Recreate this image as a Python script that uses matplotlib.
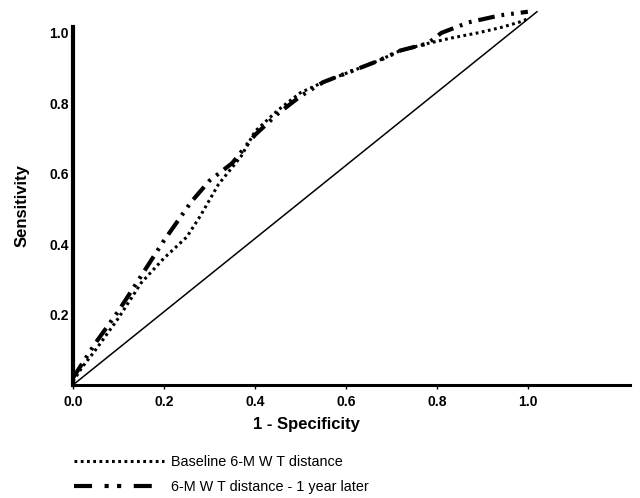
import matplotlib
matplotlib.use("Agg")
import matplotlib.pyplot as plt
from matplotlib.lines import Line2D

plt.rcParams['font.family'] = ['Liberation Sans', 'DejaVu Sans']
plt.rcParams['lines.scale_dashes'] = False

# ROC curve values
base_x = [0.0, 0.02, 0.05, 0.10, 0.15, 0.20, 0.25, 0.28, 0.32, 0.37, 0.40, 0.45,
          0.50, 0.55, 0.61, 0.67, 0.72, 0.78, 0.83, 0.89, 0.94, 0.98, 1.0]
base_y = [0.01, 0.05, 0.10, 0.19, 0.29, 0.36, 0.42, 0.48, 0.57, 0.65, 0.72, 0.78,
          0.83, 0.86, 0.89, 0.92, 0.95, 0.97, 0.985, 1.0, 1.015, 1.03, 1.04]

later_x = [0.0, 0.02, 0.05, 0.10, 0.15, 0.20, 0.26, 0.30, 0.35, 0.40, 0.45, 0.50,
           0.55, 0.61, 0.67, 0.72, 0.78, 0.81, 0.87, 0.94, 1.0]
later_y = [0.02, 0.06, 0.12, 0.21, 0.31, 0.41, 0.52, 0.58, 0.63, 0.71, 0.77, 0.82,
           0.86, 0.89, 0.92, 0.95, 0.97, 1.0, 1.03, 1.05, 1.06]

diag_x = [0.0, 1.02]
diag_y = [0.0, 1.06]

x_ticks = [0.0, 0.2, 0.4, 0.6, 0.8, 1.0]
y_ticks = [0.2, 0.4, 0.6, 0.8, 1.0]

fig = plt.figure(figsize=(6.4, 4.98), dpi=100)
ax = fig.add_axes([0.114, 0.227, 0.870, 0.719])

ax.plot(diag_x, diag_y, color='black', lw=1.1, clip_on=False)
l1, = ax.plot(base_x, base_y, color='black', lw=2.2, clip_on=False,
              label='Baseline 6-M W T distance')
l1.set_dashes((2, 2.5))
l2, = ax.plot(later_x, later_y, color='black', lw=3, clip_on=False,
              label='6-M W T distance - 1 year later')
l2.set_dashes((12, 5, 2, 5, 2, 5))

# legend proxies (the legend sample uses a longer pattern)
h1 = Line2D([], [], color='black', lw=2.2, dashes=(2, 2.5))
h2 = Line2D([], [], color='black', lw=3, dashes=(13, 9, 3, 6, 3, 9))

ax.set_xlim(0, 1.224)
ax.set_ylim(0, 1.017)
ax.set_xticks(x_ticks)
ax.set_xticklabels(['%.1f' % v for v in x_ticks], fontweight='bold', fontsize=10)
ax.set_yticks(y_ticks)
ax.set_yticklabels(['%.1f' % v for v in y_ticks], fontweight='bold', fontsize=10)
ax.tick_params(axis='x', length=3, width=1, pad=4)
ax.tick_params(axis='y', length=0, pad=3)

for s in ['top', 'right']:
    ax.spines[s].set_visible(False)
ax.spines['left'].set_linewidth(3)
ax.spines['bottom'].set_linewidth(2.2)

ax.set_xlabel('1 - Specificity', fontweight='bold', fontsize=12)
ax.xaxis.set_label_coords(0.42, -0.09)
ax.set_ylabel('Sensitivity', fontweight='bold', fontsize=12)
ax.yaxis.set_label_coords(-0.078, 0.5)

fig.legend(handles=[h1, h2], labels=[l1.get_label(), l2.get_label()],
           loc='upper left', bbox_to_anchor=(0.116, 0.087),
           frameon=False, fontsize=10.4, handlelength=6.2, handletextpad=0.5,
           labelspacing=0.8, borderaxespad=0, borderpad=0)

fig.savefig('out.png', dpi=100)
